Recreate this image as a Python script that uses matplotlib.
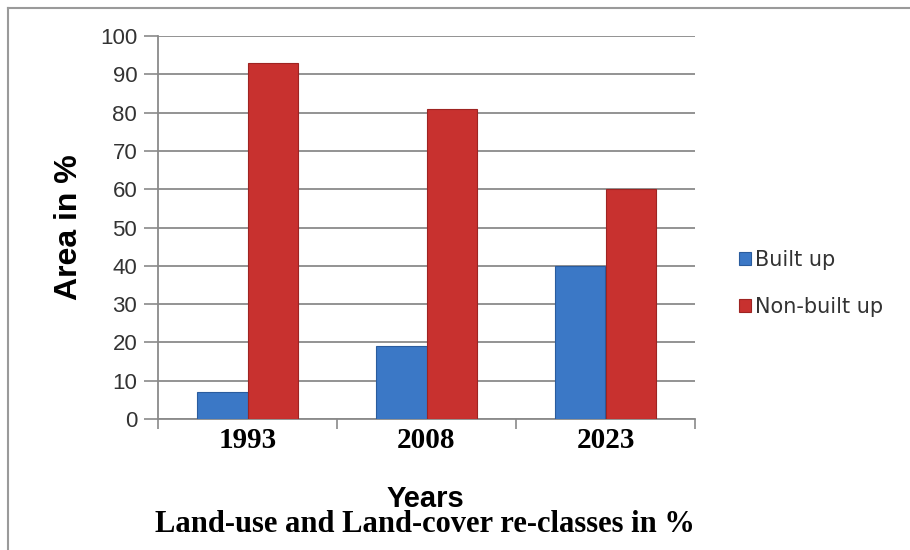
import numpy as np
import matplotlib
matplotlib.use('Agg')
import matplotlib.pyplot as plt
from matplotlib.lines import Line2D

# data
years = ['1993', '2008', '2023']
built_up = [7, 19, 40]
non_built_up = [93, 81, 60]
y_ticks = [0, 10, 20, 30, 40, 50, 60, 70, 80, 90, 100]

blue = '#3b78c6'
red = '#c8312f'
grid_col = '#8a8a8a'

fig = plt.figure(figsize=(9.1, 5.5), dpi=100)
ax = fig.add_axes([158 / 910, 1 - 419 / 550, (695 - 158) / 910, (419 - 36) / 550])

x = np.arange(len(years))
w = 0.28
ax.bar(x - w / 2, built_up, w, color=blue, edgecolor='#2a5c9e', linewidth=0.8, label='Built up', zorder=3)
ax.bar(x + w / 2, non_built_up, w, color=red, edgecolor='#9e2422', linewidth=0.8, label='Non-built up', zorder=3)

ax.set_xlim(-0.5, 2.5)
ax.set_ylim(0, 100)
ax.set_yticks(y_ticks)
ax.set_yticklabels([str(t) for t in y_ticks], fontsize=16, family='Liberation Sans', color='#333333')
ax.yaxis.grid(True, color=grid_col, linewidth=1.3, zorder=0)
ax.tick_params(axis='y', length=10, color=grid_col, width=1.2, pad=5)

# category boundary ticks, labels in between
ax.set_xticks([-0.5, 0.5, 1.5, 2.5])
ax.set_xticklabels([])
ax.set_xticks(x, minor=True)
ax.set_xticklabels(years, minor=True, fontsize=21, fontweight='bold', family='Liberation Serif')
ax.tick_params(axis='x', which='major', length=7, color=grid_col, width=1.2, direction='out')
ax.tick_params(axis='x', which='minor', length=0, pad=6)

for s in ['top', 'right']:
    ax.spines[s].set_visible(False)
for s in ['left', 'bottom']:
    ax.spines[s].set_color(grid_col)
    ax.spines[s].set_linewidth(1.3)

ax.set_ylabel('Area in %', fontsize=23, fontweight='bold', family='Liberation Sans')
ax.yaxis.set_label_coords(-(158 - 84) / 537, 0.5)

fig.text(425 / 910, 1 - 499 / 550, 'Years', ha='center', va='center', fontsize=21,
         fontweight='bold', family='Liberation Sans')
fig.text(425 / 910, 1 - 525 / 550, 'Land-use and Land-cover re-classes in %', ha='center', va='center',
         fontsize=22, fontweight='bold', family='Liberation Serif')

leg = fig.legend(loc='upper left', bbox_to_anchor=(720 / 910, 1 - 231 / 550), frameon=False,
                 prop={'family': 'DejaVu Sans', 'size': 15}, handlelength=0.6, handleheight=0.6,
                 handletextpad=0.2, labelspacing=1.3)
for t in leg.get_texts():
    t.set_color('#333333')

# outer frame on top and left
fig.add_artist(Line2D([8 / 910, 8 / 910], [0, 1 - 8 / 550], color='#9a9a9a', linewidth=1.5,
                      transform=fig.transFigure))
fig.add_artist(Line2D([8 / 910, 1], [1 - 8 / 550, 1 - 8 / 550], color='#9a9a9a', linewidth=1.5,
                      transform=fig.transFigure))

fig.savefig('out.png', dpi=100)
